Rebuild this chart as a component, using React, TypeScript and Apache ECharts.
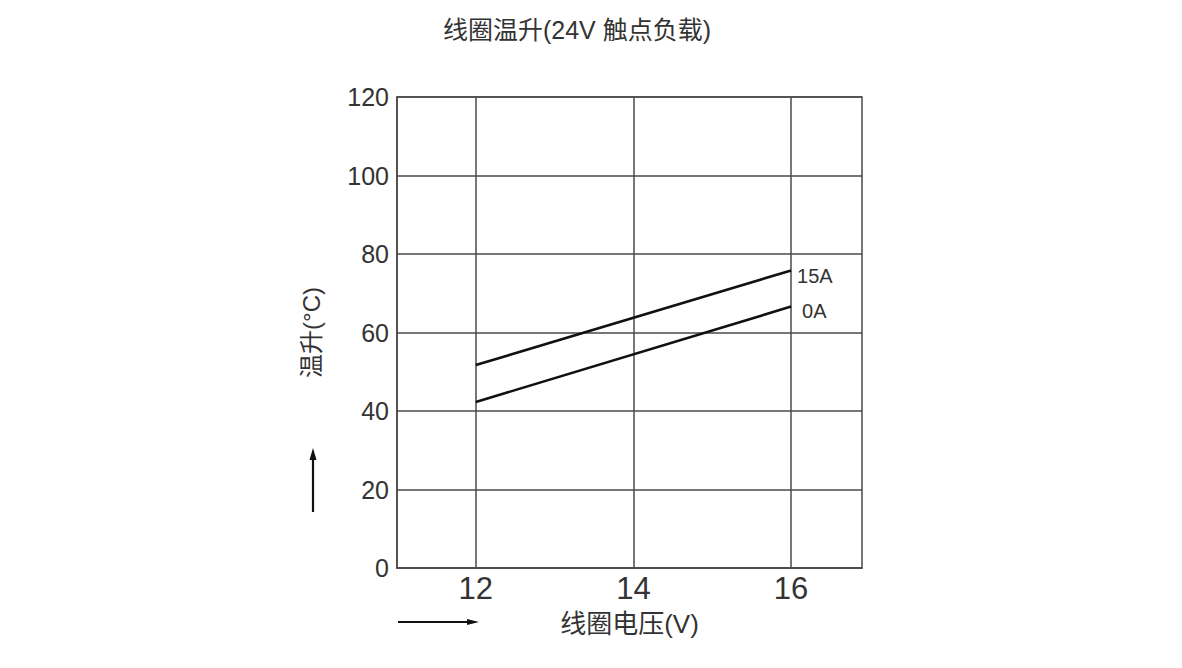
import React, { useEffect, useRef } from "react";
import * as echarts from "echarts";

const titleText = "线圈温升(24V 触点负载)";
const xAxisName = "线圈电压(V)";
const yAxisName = "温升(°C)";
const xTicks = [12, 14, 16];
const seriesNames = ["15A", "0A"];
const voltage = [12, 16];
const rise15A = [51.7, 75.8];
const rise0A = [42.3, 66.6];

const FONT = "'Liberation Sans', 'Noto Sans CJK SC', sans-serif";

export default function App() {
  const ref = useRef<HTMLDivElement>(null);
  useEffect(() => {
    document.body.style.margin = "0";
    const chart = echarts.init(ref.current!, null, { renderer: "svg" });
    const gridColor = "#4a4a4a";
    chart.setOption({
      animation: false,
      backgroundColor: "#ffffff",
      title: {
        text: titleText,
        left: 572,
        textAlign: "center",
        top: 12,
        textStyle: { fontFamily: FONT, fontSize: 25, fontWeight: "normal", color: "#333" },
      },
      grid: {
        left: 397,
        right: 320,
        top: 97,
        bottom: 100,
        show: true,
        borderColor: gridColor,
        borderWidth: 1.5,
        backgroundColor: "transparent",
      },
      xAxis: {
        type: "value",
        min: 11,
        max: 16.9,
        name: xAxisName,
        nameLocation: "middle",
        nameGap: 43,
        nameTextStyle: { fontFamily: FONT, fontSize: 26, color: "#333" },
        axisLine: { show: true, lineStyle: { color: gridColor, width: 1.5 } },
        axisTick: { show: false, customValues: xTicks },
        axisLabel: {
          customValues: xTicks,
          fontFamily: FONT,
          fontSize: 31,
          color: "#333",
          margin: 5,
        },
        splitLine: { show: true, lineStyle: { color: gridColor, width: 1.5 } },
      },
      yAxis: {
        type: "value",
        min: 0,
        max: 120,
        interval: 20,
        name: yAxisName,
        nameLocation: "middle",
        nameRotate: 90,
        nameGap: 74,
        nameTextStyle: { fontFamily: FONT, fontSize: 24, color: "#333" },
        axisLine: { show: true, lineStyle: { color: gridColor, width: 1.5 } },
        axisTick: { show: false },
        axisLabel: { fontFamily: FONT, fontSize: 25, color: "#333", margin: 8 },
        splitLine: { show: true, lineStyle: { color: gridColor, width: 1.5 } },
      },
      series: [
        {
          name: seriesNames[0],
          type: "line",
          data: voltage.map((v, i) => [v, rise15A[i]]),
          symbol: "none",
          lineStyle: { color: "#111", width: 2.6 },
          endLabel: {
            show: true,
            formatter: "{a}",
            distance: 6,
            offset: [0, 6],
            fontFamily: FONT,
            fontSize: 20,
            color: "#333",
          },
        },
        {
          name: seriesNames[1],
          type: "line",
          data: voltage.map((v, i) => [v, rise0A[i]]),
          symbol: "none",
          lineStyle: { color: "#111", width: 2.6 },
          endLabel: {
            show: true,
            formatter: "{a}",
            distance: 11,
            offset: [0, 4],
            fontFamily: FONT,
            fontSize: 20,
            color: "#333",
          },
        },
      ],
      graphic: [
        { type: "line", shape: { x1: 313, y1: 512, x2: 313, y2: 458 }, style: { stroke: "#111", lineWidth: 2.2 } },
        { type: "polygon", shape: { points: [[313, 448], [309.5, 460], [316.5, 460]] }, style: { fill: "#111" } },
        { type: "line", shape: { x1: 398, y1: 622, x2: 468, y2: 622 }, style: { stroke: "#111", lineWidth: 2 } },
        { type: "polygon", shape: { points: [[479, 622], [467, 619], [467, 625]] }, style: { fill: "#111" } },
      ],
    });
    return () => chart.dispose();
  }, []);
  return <div ref={ref} style={{ width: 1182, height: 668 }} />;
}
